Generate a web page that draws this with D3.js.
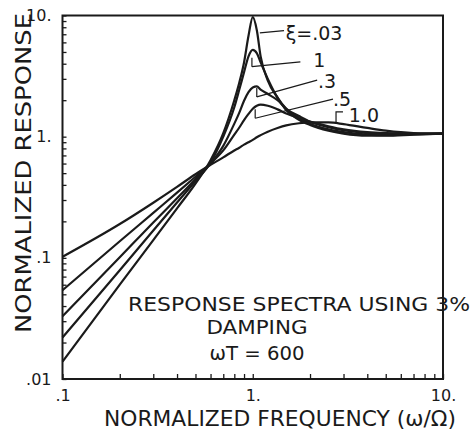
<!DOCTYPE html>
<html>
<head>
<meta charset="utf-8">
<script src="https://cdn.jsdelivr.net/npm/d3@7"></script>
<style>
  body { margin: 0; background: #fff; }
  text { font-family: "DejaVu Sans", sans-serif; fill: #1a1a1a; }
</style>
</head>
<body>
<svg id="svg" width="472" height="431"></svg>
<script>
// normalized frequency (w / Omega)
var freq = [0.1, 0.2, 0.3, 0.4, 0.5, 0.6, 0.7, 0.8, 0.85, 0.9, 0.95, 1.0, 1.05,
            1.1, 1.2, 1.35, 1.5, 1.75, 2, 2.5, 3, 4, 5, 7, 10];

// normalized response, one list per damping ratio
var resp003 = [0.0139, 0.06, 0.14, 0.256, 0.41, 0.64, 1.07, 2.0, 2.8, 4.1, 6.8, 9.7, 7.6,
               4.6, 2.9, 2.1, 1.65, 1.38, 1.25, 1.12, 1.06, 1.02, 1.02, 1.04, 1.06];
var resp01  = [0.022, 0.079, 0.168, 0.286, 0.43, 0.61, 1.0, 1.75, 2.45, 3.4, 4.6, 5.2, 4.9,
               4.1, 3.0, 2.1, 1.7, 1.42, 1.28, 1.15, 1.09, 1.04, 1.03, 1.05, 1.06];
var resp03  = [0.033, 0.101, 0.196, 0.31, 0.446, 0.6, 0.84, 1.28, 1.58, 1.98, 2.33, 2.55, 2.6,
               2.45, 2.25, 2.0, 1.7, 1.48, 1.33, 1.2, 1.13, 1.07, 1.05, 1.05, 1.06];
var resp05  = [0.054, 0.137, 0.235, 0.345, 0.467, 0.6, 0.77, 1.04, 1.19, 1.37, 1.54, 1.7, 1.8,
               1.84, 1.8, 1.68, 1.55, 1.42, 1.33, 1.22, 1.15, 1.09, 1.07, 1.06, 1.06];
var resp10  = [0.102, 0.19, 0.285, 0.385, 0.49, 0.585, 0.675, 0.77, 0.81, 0.86, 0.9, 0.94, 0.99,
               1.03, 1.1, 1.18, 1.24, 1.29, 1.31, 1.31, 1.27, 1.18, 1.12, 1.07, 1.06];

var series = [resp003, resp01, resp03, resp05, resp10];

// tick labels
var xMajor = [0.1, 1, 10];
var xMajorText = [".1", "1.", "10."];
var yMajor = [0.01, 0.1, 1, 10];
var yMajorText = [".01", ".1", "1.", "10."];

// curve labels: [text, curve f, curve v, leader end f, leader end v, text f, text v]
var labels = [
  ["\u03BE=.03", 1.09, 7.2, 1.46, 7.5, 1.49, 6.3],
  ["1",          0.99, 3.78, 1.78, 4.15, 2.08, 3.75],
  [".3",         1.05, 2.13, 2.18, 2.93, 2.2, 2.52],
  [".5",         1.03, 1.42, 2.64, 2.04, 2.64, 1.79]
];

var ink = "#1a1a1a";
var svg = d3.select("#svg");

var x = d3.scaleLog().domain([0.1, 10]).range([62.5, 443]);
var y = d3.scaleLog().domain([0.01, 10]).range([379, 15.5]);

// frame
svg.append("rect")
    .attr("x", x(0.1))
    .attr("y", y(10))
    .attr("width", x(10) - x(0.1))
    .attr("height", y(0.01) - y(10))
    .attr("fill", "none")
    .attr("stroke", ink)
    .attr("stroke-width", 2);

function majorLabel(list, text) {
  return function(d) {
    for (var i = 0; i < list.length; i++) {
      if (Math.abs(d - list[i]) < list[i] * 1e-6) return text[i];
    }
    return "";
  };
}

var xAxis = d3.axisBottom(x)
    .tickValues(x.ticks())
    .tickSizeInner(-5)
    .tickSizeOuter(0)
    .tickPadding(11)
    .tickFormat(majorLabel(xMajor, xMajorText));

var yAxis = d3.axisLeft(y)
    .tickValues(y.ticks())
    .tickSizeInner(-4)
    .tickSizeOuter(0)
    .tickPadding(11)
    .tickFormat(majorLabel(yMajor, yMajorText));

var gx = svg.append("g")
    .attr("transform", "translate(0," + y(0.01) + ")")
    .call(xAxis);
var gy = svg.append("g")
    .attr("transform", "translate(" + x(0.1) + ",0)")
    .call(yAxis);

[gx, gy].forEach(function(g) {
  g.select(".domain").remove();
  g.selectAll(".tick line").attr("stroke", ink).attr("stroke-width", 1.3);
  g.selectAll(".tick text")
      .attr("font-size", 16)
      .attr("font-family", "DejaVu Sans")
      .attr("fill", ink);
});

// curves
var line = d3.line()
    .x(function(d) { return x(d[0]); })
    .y(function(d) { return y(d[1]); })
    .curve(d3.curveMonotoneX);

series.forEach(function(vals) {
  svg.append("path")
      .datum(freq.map(function(f, i) { return [f, vals[i]]; }))
      .attr("fill", "none")
      .attr("stroke", ink)
      .attr("stroke-width", 2.2)
      .attr("stroke-linejoin", "round")
      .attr("d", line);
});

// leader lines and damping labels
labels.forEach(function(l, i) {
  var x0 = x(l[1]), y0 = y(l[2]);
  svg.append("line")
      .attr("x1", x0).attr("y1", y0)
      .attr("x2", x(l[3])).attr("y2", y(l[4]))
      .attr("stroke", ink).attr("stroke-width", 1.2);
  if (i > 0) {
    svg.append("line")
        .attr("x1", x0).attr("y1", y0)
        .attr("x2", x0).attr("y2", y0 - 9)
        .attr("stroke", ink).attr("stroke-width", 1.2);
  }
  svg.append("text")
      .attr("x", x(l[5]))
      .attr("y", y(l[6]))
      .attr("font-size", 19)
      .text(l[0]);
});

// the "1.0" label hangs on a small bracket
svg.append("path")
    .attr("d", "M" + x(2.74) + "," + y(1.27) + "V" + y(1.6) + "H" + x(2.98))
    .attr("fill", "none")
    .attr("stroke", ink)
    .attr("stroke-width", 1.2);
svg.append("text")
    .attr("x", x(3.2))
    .attr("y", y(1.32))
    .attr("font-size", 19)
    .text("1.0");

// titles
svg.append("text")
    .attr("text-anchor", "middle")
    .attr("font-size", 21)
    .attr("x", 280)
    .attr("y", 426)
    .attr("textLength", 352)
    .attr("lengthAdjust", "spacingAndGlyphs")
    .text("NORMALIZED  FREQUENCY (\u03C9/\u03A9)");

svg.append("text")
    .attr("text-anchor", "middle")
    .attr("font-size", 22)
    .attr("transform", "translate(31,173) rotate(-90)")
    .attr("textLength", 320)
    .attr("lengthAdjust", "spacingAndGlyphs")
    .text("NORMALIZED  RESPONSE");

// note inside the plot
var note = ["RESPONSE SPECTRA USING 3%", "DAMPING", "\u03C9T = 600"];
var noteWidth = [342, 101, 95];
var noteX = [299, 257, 257];
var noteY = [311, 334, 360];
note.forEach(function(t, i) {
  svg.append("text")
      .attr("text-anchor", "middle")
      .attr("font-size", 19.5)
      .attr("x", noteX[i])
      .attr("y", noteY[i])
      .attr("textLength", noteWidth[i])
      .attr("lengthAdjust", "spacingAndGlyphs")
      .text(t);
});
</script>
</body>
</html>
